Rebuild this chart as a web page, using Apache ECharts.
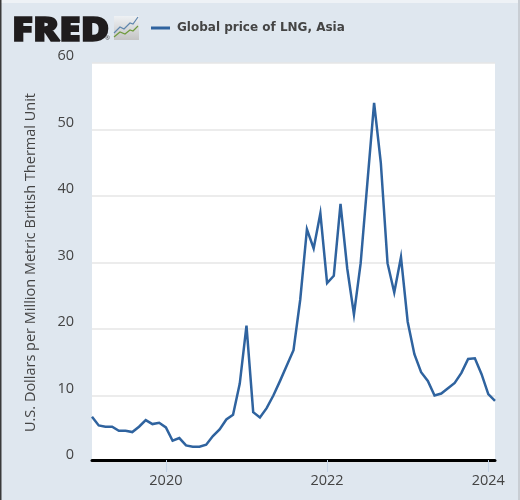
<!DOCTYPE html>
<html>
<head>
<meta charset="utf-8">
<style>html,body{margin:0;padding:0;background:#dfe7ef}#chart{width:520px;height:500px}</style>
<script src="https://cdn.jsdelivr.net/npm/echarts@6/dist/echarts.min.js"></script>
</head>
<body>
<div id="chart"></div>
<script>
// Monthly observations, February 2019 to February 2024
const startYear = 2019, startMonth = 2;
const seriesName = 'Global price of LNG, Asia';
const axisTitle = 'U.S. Dollars per Million Metric British Thermal Unit';
const yTicks = [0, 10, 20, 30, 40, 50, 60];
const xTickYears = [2020, 2022, 2024];
const prices = [
  6.8, 5.5, 5.3, 5.3, 4.7, 4.7, 4.5, 5.3, 6.3, 5.7, 5.9,
  5.2, 3.2, 3.6, 2.5, 2.3, 2.3, 2.6, 3.9, 4.9, 6.4, 7.1, 11.8,
  20.5, 7.5, 6.7, 8.1, 10.0, 12.2, 14.5, 16.8, 24.4, 35.0, 32.1, 37.4,
  26.9, 28.0, 38.8, 29.1, 22.2, 29.9, 42.0, 54.0, 45.0, 29.9, 25.5, 30.8,
  21.1, 16.2, 13.5, 12.2, 10.0, 10.3, 11.1, 11.9, 13.4, 15.5, 15.6, 13.2, 10.2,
  9.2
];
const months = prices.map((_, i) => {
  const m = startMonth - 1 + i;
  return (startYear + Math.floor(m / 12)) + '-' + String(m % 12 + 1).padStart(2, '0');
});

const PAGE = '#dfe7ef', LINE = '#2f639f', TEXT = '#444444';
const isYearTick = (_, label) => xTickYears.some(y => label === y + '-01');

const chart = echarts.init(document.getElementById('chart'), null, {renderer: 'canvas'});
chart.setOption({
  animation: false,
  backgroundColor: PAGE,
  textStyle: {fontFamily: '"Open Sans"'},
  grid: {left: 92, right: 25, top: 63, bottom: 38},
  legend: {
    left: 146, top: 17, itemWidth: 19, itemHeight: 3, itemGap: 7, icon: 'rect',
    textStyle: {fontFamily: '"DejaVu Sans"', fontSize: 12, fontWeight: 600, color: TEXT, padding: [0, 0, 0, 2]},
    data: [seriesName]
  },
  xAxis: {
    type: 'category', data: months, boundaryGap: false, offset: -2,
    axisLine: {lineStyle: {color: '#000', width: 3}},
    axisTick: {interval: isYearTick, length: 12, lineStyle: {color: '#c5d5e8', width: 1}},
    axisLabel: {
      interval: isYearTick, margin: 13, fontSize: 14.5, color: TEXT,
      formatter: v => v.slice(0, 4)
    },
    splitLine: {show: false}
  },
  yAxis: {
    type: 'value', min: yTicks[0], max: yTicks[yTicks.length - 1], interval: 10,
    name: axisTitle, nameLocation: 'middle', nameGap: 54, nameRotate: 90,
    nameTextStyle: {fontSize: 14.5, color: TEXT},
    axisLine: {show: false}, axisTick: {show: false},
    axisLabel: {margin: 18, fontSize: 14.5, color: TEXT, verticalAlign: 'bottom', lineHeight: 14},
    splitLine: {lineStyle: {color: '#e6e6e6', width: 1.5}}
  },
  series: [{
    name: seriesName, type: 'line', data: prices, showSymbol: false, smooth: false,
    lineStyle: {color: LINE, width: 2.5, join: 'miter'},
    itemStyle: {color: LINE}
  }],
  graphic: [
    // Plot background and page frame
    {type: 'rect', z: -1, shape: {x: 92, y: 63, width: 403, height: 397}, style: {fill: '#fff'}},
    {type: 'rect', shape: {x: 0, y: 0, width: 520, height: 3}, style: {fill: '#eef2f6'}},
    {type: 'rect', shape: {x: 0, y: 0, width: 1.5, height: 500}, style: {fill: '#3a3a3a'}},
    {type: 'rect', shape: {x: 518, y: 0, width: 2, height: 500}, style: {fill: '#c9ced4'}},
    // FRED wordmark
    {type: 'text', x: 12, y: 15, scaleX: 1.18, scaleY: 1,
      style: {text: 'FRED', fill: '#1f1c1d', stroke: '#1f1c1d', lineWidth: 1.6,
        font: '800 33px "Open Sans"'}},
    {type: 'text', x: 105, y: 35, style: {text: '®', fill: '#444', font: '6px "Open Sans"'}},
    // Small chart icon beside the wordmark
    {type: 'rect', shape: {x: 114, y: 16, width: 25, height: 24},
      style: {fill: new echarts.graphic.LinearGradient(0, 0, 0, 1, [
        {offset: 0, color: '#eef1f4'}, {offset: 1, color: '#c4c4c4'}])}},
    {type: 'polyline', shape: {points: [[114, 33], [120, 27], [124, 29], [130, 23], [133, 24], [138, 17]]},
      style: {stroke: '#5f86ad', lineWidth: 1.2, fill: 'none'}},
    {type: 'polyline', shape: {points: [[114, 37], [120, 32], [125, 34], [130, 30], [133, 31], [138, 26]]},
      style: {stroke: '#6f9a3c', lineWidth: 1.2, fill: 'none'}}
  ]
});
</script>
</body>
</html>
